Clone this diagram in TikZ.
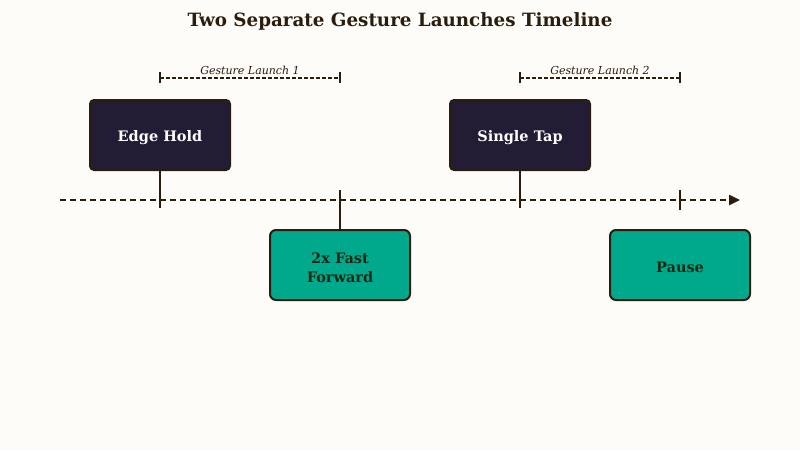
\documentclass[tikz,border=0pt]{standalone}
\usepackage{fontspec}
\setmainfont{DejaVu Serif}
\usetikzlibrary{arrows.meta}
\definecolor{bg}{HTML}{FEFCF8}
\definecolor{ink}{HTML}{2B1D0E}
\definecolor{navy}{HTML}{221C35}
\definecolor{teal}{HTML}{00A88C}
\definecolor{darkt}{HTML}{1C2A14}
\newcommand{\lowr}[1]{\raisebox{-2.5pt}[\height][\depth]{#1}}
\tikzset{
  evtop/.style={draw=ink, line width=2pt, fill=navy, rounded corners=4pt, minimum width=140pt, minimum height=70pt, inner sep=0pt, text=white, font=\bfseries\fontsize{14.5}{19}\selectfont, align=center},
  evbot/.style={draw=ink, line width=2pt, fill=teal, rounded corners=6pt, minimum width=140pt, minimum height=70pt, inner sep=0pt, text=darkt, font=\bfseries\fontsize{14.5}{19}\selectfont, align=center},
  tickline/.style={draw=ink, line width=1.6pt},
  spanline/.style={draw=ink, line width=1.2pt, dash pattern=on 3.5pt off 2.5pt},
  spantick/.style={draw=ink, line width=1.2pt},
  spanlabel/.style={font=\itshape\fontsize{11}{13}\selectfont, text=ink, inner sep=0pt},
}
\begin{document}
\begin{tikzpicture}[x=1pt,y=-1pt]
\fill[bg] (0,0) rectangle (800,450);
\useasboundingbox (0,0) rectangle (800,450);
\node[font=\bfseries\fontsize{18.3}{22}\selectfont, text=ink] (title) at (400,21) {Two Separate Gesture Launches Timeline};

% timeline
\coordinate (tls) at (60,200);
\coordinate (tle) at (740,200);
\draw[ink, line width=2.4pt, dash pattern=on 6pt off 4pt, -{Triangle[length=11pt,width=10pt]}] (tls) -- (tle);

% events
\node[evtop] (edge) at (160,135) {\lowr{Edge Hold}};
\node[evbot] (ff) at (340,265) {\lowr{2x Fast}\\\lowr{Forward}};
\node[evtop] (tap) at (520,135) {\lowr{Single Tap}};
\node[evbot] (pause) at (680,265) {\lowr{Pause}};

\coordinate (t1) at (160,208);
\coordinate (t2) at (340,190);
\coordinate (t3) at (520,208);
\coordinate (t4a) at (680,190);
\coordinate (t4b) at (680,210);
\draw[tickline] (edge.south) -- (t1);
\draw[tickline] (t2) -- (ff.north);
\draw[tickline] (tap.south) -- (t3);
\draw[tickline] (t4a) -- (t4b);

% spans
\coordinate (s1a) at (160,78);
\coordinate (s1b) at (340,78);
\coordinate (s2a) at (520,78);
\coordinate (s2b) at (680,78);
\draw[spanline] (s1a) -- (s1b);
\draw[spantick] ([yshift=-5pt]s1a) -- ([yshift=6pt]s1a);
\draw[spantick] ([yshift=-5pt]s1b) -- ([yshift=6pt]s1b);
\node[spanlabel] (l1) at (250,70) {Gesture Launch 1};
\draw[spanline] (s2a) -- (s2b);
\draw[spantick] ([yshift=-5pt]s2a) -- ([yshift=6pt]s2a);
\draw[spantick] ([yshift=-5pt]s2b) -- ([yshift=6pt]s2b);
\node[spanlabel] (l2) at (600,70) {Gesture Launch 2};
\end{tikzpicture}
\end{document}
